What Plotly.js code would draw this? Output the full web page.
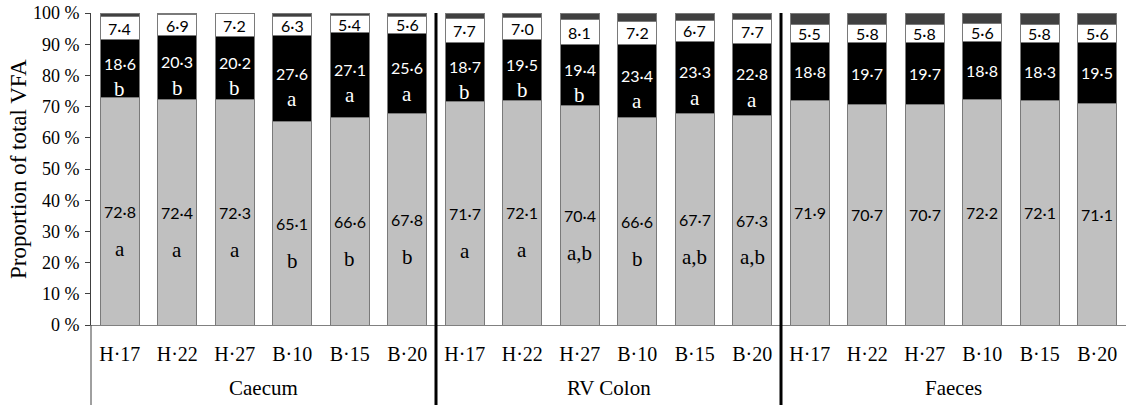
<!DOCTYPE html>
<html>
<head>
<meta charset="utf-8">
<script src="https://cdn.plot.ly/plotly-3.0.1.min.js"></script>
<style>html,body{margin:0;padding:0;background:#fff;}#chart{width:1126px;height:405px;}</style>
</head>
<body>
<div id="chart"></div>
<script>
// ---- data ----
const groups = ['Caecum', 'RV Colon', 'Faeces'];
const treatments = ['H·17', 'H·22', 'H·27', 'B·10', 'B·15', 'B·20'];
const acetate = [72.8, 72.4, 72.3, 65.1, 66.6, 67.8, 71.7, 72.1, 70.4, 66.6, 67.7, 67.3, 71.9, 70.7, 70.7, 72.2, 72.1, 71.1];
const propionate = [18.6, 20.3, 20.2, 27.6, 27.1, 25.6, 18.7, 19.5, 19.4, 23.4, 23.3, 22.8, 18.8, 19.7, 19.7, 18.8, 18.3, 19.5];
const butyrate = [7.4, 6.9, 7.2, 6.3, 5.4, 5.6, 7.7, 7.0, 8.1, 7.2, 6.7, 7.7, 5.5, 5.8, 5.8, 5.6, 5.8, 5.6];
const other = [1.2, 0.4, 0.3, 1.0, 0.9, 1.0, 1.9, 1.4, 2.1, 2.8, 2.3, 2.2, 3.8, 3.8, 3.8, 3.4, 3.8, 3.8];
const acetateLetters = ['a', 'a', 'a', 'b', 'b', 'b', 'a', 'a', 'a,b', 'b', 'a,b', 'a,b', '', '', '', '', '', ''];
const propionateLetters = ['b', 'b', 'b', 'a', 'a', 'a', 'b', 'b', 'b', 'a', 'a', 'a', '', '', '', '', '', ''];
const yTicks = [0, 10, 20, 30, 40, 50, 60, 70, 80, 90, 100];

// ---- build ----
const xs = acetate.map((_, i) => i);
const tickText = xs.map(i => treatments[i % treatments.length]);
const fmt = v => v.toFixed(1).replace('.', '·');
const outline = {color: '#7a7a7a', width: 1};

function seg(y, color) {
  return {type: 'bar', x: xs, y: y, marker: {color: color, line: outline}, hoverinfo: 'skip', showlegend: false};
}
const traces = [seg(acetate, '#c0c0c0'), seg(propionate, '#000000'), seg(butyrate, '#ffffff'), seg(other, '#404040')];

const SANS = 'Lato, "Open Sans", sans-serif';
const SERIF = '"Liberation Serif", "Times New Roman", serif';
const ann = [];
xs.forEach(i => {
  const a = acetate[i], p = propionate[i], b = butyrate[i];
  const hasA = acetateLetters[i] !== '';
  const hasP = propionateLetters[i] !== '';
  // acetate
  ann.push({x: i, y: a / 2, text: fmt(a), showarrow: false, font: {family: SANS, size: 16, color: '#000'}});
  if (hasA) ann.push({x: i, y: a / 2 - 12, text: acetateLetters[i], showarrow: false, font: {family: SERIF, size: 21, color: '#000'}});
  // propionate
  const pc = a + p / 2;
  ann.push({x: i, y: hasP ? pc + 1.8 : pc, text: fmt(p), showarrow: false, font: {family: SANS, size: 16, color: '#fff'}});
  if (hasP) ann.push({x: i, y: pc - 6.5, text: propionateLetters[i], showarrow: false, font: {family: SERIF, size: 21, color: '#fff'}});
  // butyrate
  ann.push({x: i, y: a + p + b / 2, text: fmt(b), showarrow: false, font: {family: SANS, size: 16, color: '#000'}});
});
groups.forEach((g, k) => {
  ann.push({x: k * 6 + 2.5, y: 0, yref: 'paper', yanchor: 'middle', yshift: -63, text: g, showarrow: false,
            font: {family: SERIF, size: 21, color: '#000'}});
});
ann.push({xref: 'paper', x: 0, xanchor: 'center', xshift: -73, yref: 'paper', y: 0.5, yanchor: 'middle',
          text: 'Proportion of total VFA', textangle: -90,
          showarrow: false, font: {family: SERIF, size: 23, color: '#000'}});

const bottom = -80 / 312;
const shapes = [
  {type: 'line', xref: 'paper', x0: 0, x1: 0, yref: 'paper', y0: bottom, y1: 0, line: {color: '#404040', width: 1}},
  {type: 'line', xref: 'x', x0: 5.5, x1: 5.5, yref: 'paper', y0: bottom, y1: 1, line: {color: '#000', width: 3}},
  {type: 'line', xref: 'x', x0: 11.5, x1: 11.5, yref: 'paper', y0: bottom, y1: 1, line: {color: '#000', width: 3}}
];

const layout = {
  width: 1126, height: 405,
  margin: {l: 91, r: 0, t: 13, b: 80, pad: 0},
  paper_bgcolor: '#fff', plot_bgcolor: '#fff',
  barmode: 'stack', bargap: 0.33,
  showlegend: false,
  xaxis: {
    range: [-0.5, 17.5], tickvals: xs, ticktext: tickText, ticks: '',
    showline: true, linecolor: '#808080', linewidth: 1, showgrid: false, zeroline: false,
    tickfont: {family: SERIF, size: 20, color: '#000'}, ticklabelstandoff: 11, fixedrange: true
  },
  yaxis: {
    range: [0, 100], tickvals: yTicks, ticktext: yTicks.map(v => v + ' %'), ticks: 'outside', ticklen: 5,
    tickcolor: '#404040', showline: true, linecolor: '#404040', linewidth: 1, showgrid: false, zeroline: false,
    tickfont: {family: SERIF, size: 18, color: '#000'}, ticklabelstandoff: 2, fixedrange: true
  },
  annotations: ann,
  shapes: shapes
};

Plotly.newPlot('chart', traces, layout, {displayModeBar: false, staticPlot: true});
</script>
</body>
</html>
